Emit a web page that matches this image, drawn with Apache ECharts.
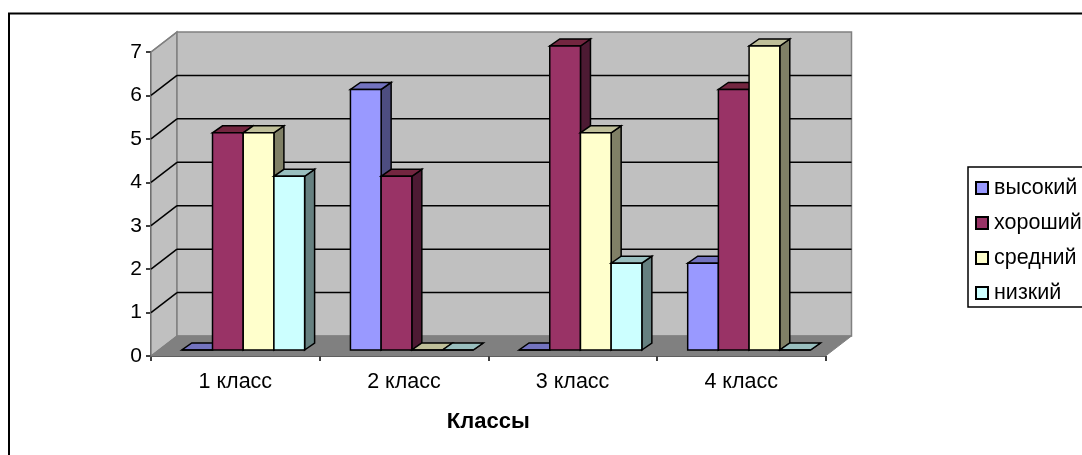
<!DOCTYPE html>
<html><head><meta charset="utf-8">
<style>html,body{margin:0;padding:0;background:#fff;overflow:hidden}#c{width:1082px;height:455px}</style>
<script src="https://cdn.jsdelivr.net/npm/echarts@6/dist/echarts.min.js"></script>
</head><body><div id="c"></div>
<script>
const categories = ['1 класс','2 класс','3 класс','4 класс'];
const seriesNames = ['высокий','хороший','средний','низкий'];
const vysokiy = [0,6,0,2];
const khoroshiy = [5,4,7,6];
const sredniy = [5,0,5,7];
const nizkiy = [4,0,2,0];
const colors = ['#9999FF','#993366','#FFFFCC','#CCFFFF'];
const topColors = ['#7373BF','#732640','#BFBF99','#99BFBF'];
const sideColors = ['#4D4D80','#4D1A33','#808066','#668080'];
const yTicks = [0,1,2,3,4,5,6,7];
const wallDX = 26, wallDY = -20;
const barDX = 10, barDY = -7, baseDY = -6, barW = 30.7, barStart = -53.5;
const FONT = '"Liberation Sans", Arial, sans-serif';
const chart = echarts.init(document.getElementById('c'), null, {renderer:'canvas'});

function poly(points, fill, stroke, lw){
  return {type:'polygon', shape:{points}, style:{fill, stroke, lineWidth:lw}, silent:true};
}
function wallItem(params, api){
  const v = api.value(0);
  const p0 = api.coord([0, v]);
  const band = api.size([1,0])[0];
  const left = p0[0] - band/2, right = left + band*categories.length;
  const y = p0[1];
  const kids = [];
  if (params.dataIndex === 0) {
    const top = api.coord([0, 7])[1];
    kids.push(poly([[left,y],[left+wallDX,y+wallDY],[left+wallDX,top+wallDY],[left,top]],'#C0C0C0','#808080',1.5));
    kids.push(poly([[left+wallDX,y+wallDY],[right+wallDX,y+wallDY],[right+wallDX,top+wallDY],[left+wallDX,top+wallDY]],'#C0C0C0','#808080',1.5));
    kids.push(poly([[left,y],[right,y],[right+wallDX,y+wallDY],[left+wallDX,y+wallDY]],'#808080','#808080',1));
  } else if (v < 7) {
    kids.push({type:'line',shape:{x1:left+wallDX,y1:y+wallDY,x2:right+wallDX,y2:y+wallDY},style:{stroke:'#000',lineWidth:1.5},silent:true});
  }
  if (v > 0) {
    kids.push({type:'line',shape:{x1:left,y1:y,x2:left+wallDX,y2:y+wallDY},style:{stroke: v<7?'#000':'#808080',lineWidth:1.5},silent:true});
  }
  return {type:'group',children:kids};
}
function barRender(si){
  return function(params, api){
    const cat = api.value(0), val = api.value(1);
    const c = api.coord([cat, val]), b = api.coord([cat, 0]);
    const x0 = c[0] + barStart + si*barW, x1 = x0 + barW;
    const yt = c[1] + baseDY, yb = b[1] + baseDY;
    return {type:'group',children:[
      poly([[x1,yb],[x1+barDX,yb+barDY],[x1+barDX,yt+barDY],[x1,yt]],sideColors[si],'#000',1.5),
      poly([[x0,yt],[x1,yt],[x1+barDX,yt+barDY],[x0+barDX,yt+barDY]],topColors[si],'#000',1.5),
      poly([[x0,yt],[x1,yt],[x1,yb],[x0,yb]],colors[si],'#000',1.5)
    ]};
  };
}
const values = [vysokiy,khoroshiy,sredniy,nizkiy];
const series = [{
  type:'custom', name:'wall', coordinateSystem:'cartesian2d', silent:true, z:1,
  encode:{y:0}, data:yTicks.map(v=>[v]), renderItem:wallItem
}];
values.forEach((arr,si)=>series.push({
  type:'custom', name:seriesNames[si], coordinateSystem:'cartesian2d', z:3+si, silent:true,
  itemStyle:{color:colors[si],borderColor:'#000',borderWidth:1.5},
  encode:{x:0,y:1}, data:arr.map((v,i)=>[i,v]), renderItem:barRender(si)
}));
chart.setOption({
  animation:false, backgroundColor:'#fff',
  graphic:[{type:'rect',z:0,silent:true,shape:{x:9,y:13.5,width:1090,height:460},style:{fill:'none',stroke:'#000',lineWidth:2}}],
  grid:{left:151,right:256.5,top:52,height:304,containLabel:false},
  legend:{
    data:seriesNames, orient:'vertical', left:968, top:167, padding:[9,60,2,7],
    itemWidth:12,itemHeight:12,itemGap:11, icon:'rect', borderColor:'#000',borderWidth:1.5,
    backgroundColor:'#fff',
    textStyle:{fontFamily:FONT,fontSize:21.5,lineHeight:24,color:'#000',padding:[0,0,0,1]},
    selectedMode:false
  },
  xAxis:{type:'category',data:categories,
    axisLine:{onZero:false,lineStyle:{color:'#000',width:1.5}},
    axisTick:{show:true,alignWithLabel:false,length:5,lineStyle:{color:'#000',width:1.5}},
    axisLabel:{fontFamily:FONT,fontSize:21.5,color:'#000',margin:15},
    splitLine:{show:false},
    name:'Классы',nameLocation:'middle',nameGap:55,
    nameTextStyle:{fontFamily:FONT,fontSize:22,fontWeight:'bold',color:'#000'}
  },
  yAxis:{type:'value',min:0,max:7,interval:1,
    axisLine:{show:true,lineStyle:{color:'#000',width:1.5}},
    axisTick:{show:true,length:5,lineStyle:{color:'#000',width:1.5}},
    axisLabel:{fontFamily:FONT,fontSize:21,color:'#000',margin:9},
    splitLine:{show:false}
  },
  series
});
</script></body></html>
